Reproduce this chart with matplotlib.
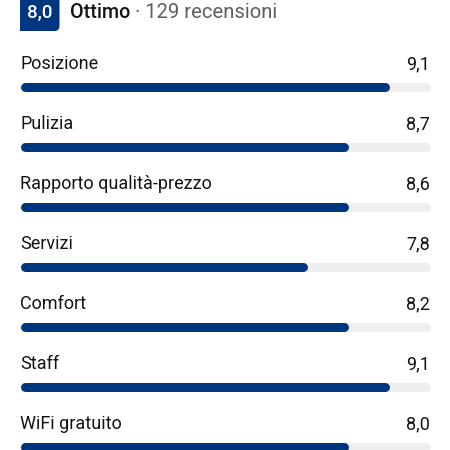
import numpy as np
import matplotlib
matplotlib.use("Agg")
import matplotlib.pyplot as plt
from matplotlib.path import Path
from matplotlib.patches import PathPatch

# ---- data ----
overall_score = "8,0"
overall_label = "Ottimo"
review_text = "· 129 recensioni"
categories = ["Posizione", "Pulizia", "Rapporto qualità-prezzo", "Servizi",
              "Comfort", "Staff", "WiFi gratuito"]
scores = [9.1, 8.7, 8.6, 7.8, 8.2, 9.1, 8.0]
max_score = 10

# ---- style ----
NAVY = "#003580"
TRACK = "#efefef"
TEXT = "#141414"
GRAY = "#5f5f5f"
FONT = "Roboto"

W = H = 450
fig = plt.figure(figsize=(4.5, 4.5), dpi=100)
fig.patch.set_facecolor("white")

# overlay axes in pixel coordinates for header
ov = fig.add_axes([0, 0, 1, 1])
ov.set_xlim(0, W)
ov.set_ylim(H, 0)
ov.axis("off")

# badge with rounded bottom-right corner
x0, x1, y0, y1, r = 20, 59.5, -2, 31, 5
verts = [(x0, y0), (x1, y0), (x1, y1 - r), (x1, y1), (x1 - r, y1), (x0, y1), (x0, y0)]
codes = [Path.MOVETO, Path.LINETO, Path.LINETO, Path.CURVE3, Path.CURVE3, Path.LINETO, Path.CLOSEPOLY]
ov.add_patch(PathPatch(Path(verts, codes), facecolor=NAVY, edgecolor="none"))
ov.text(40, 17.8, overall_score, color="white", fontsize=13.5, family=FONT,
        fontweight="medium", ha="center", va="baseline")
t1 = ov.text(70, 18.5, overall_label, color=TEXT, fontsize=14.2, family=FONT,
             fontweight="medium", ha="left", va="baseline")
fig.canvas.draw()
bb = t1.get_window_extent()
inv = ov.transData.inverted()
xend = inv.transform((bb.x1, bb.y0))[0]
ov.text(xend + 5, 18.5, review_text, color=GRAY, fontsize=14.6, family=FONT,
        ha="left", va="baseline")

# bars axes: x in score units -> pixels 20..430
left_px, right_px = 20, 430
ax = fig.add_axes([left_px / W, 0, (right_px - left_px) / W, 1])
ax.set_xlim(0, max_score)
first_c, step = 86.5, 60.0
ax.set_ylim((H - first_c) / step, (0 - first_c) / step)
ax.axis("off")

lw_px = 9
lw_pt = lw_px * 72 / fig.dpi
cap = (lw_px / 2) / ((right_px - left_px) / max_score)  # radius in data units

levels = np.floor(np.array(scores))
for i, (cat, s, lv) in enumerate(zip(categories, scores, levels)):
    ax.plot([cap, max_score - cap], [i, i], color=TRACK, lw=lw_pt,
            solid_capstyle="round", clip_on=False)
    ax.plot([cap, lv - cap], [i, i], color=NAVY, lw=lw_pt,
            solid_capstyle="round", clip_on=False)
    ax.text(0, i - 17.5 / step, cat, color=TEXT, fontsize=13, family=FONT,
            ha="left", va="baseline", clip_on=False)
    ax.text(max_score, i - 17.5 / step, f"{s:.1f}".replace(".", ","), color=TEXT,
            fontsize=13, family=FONT, ha="right", va="baseline", clip_on=False)

fig.savefig("out.png", dpi=100, facecolor="white")
